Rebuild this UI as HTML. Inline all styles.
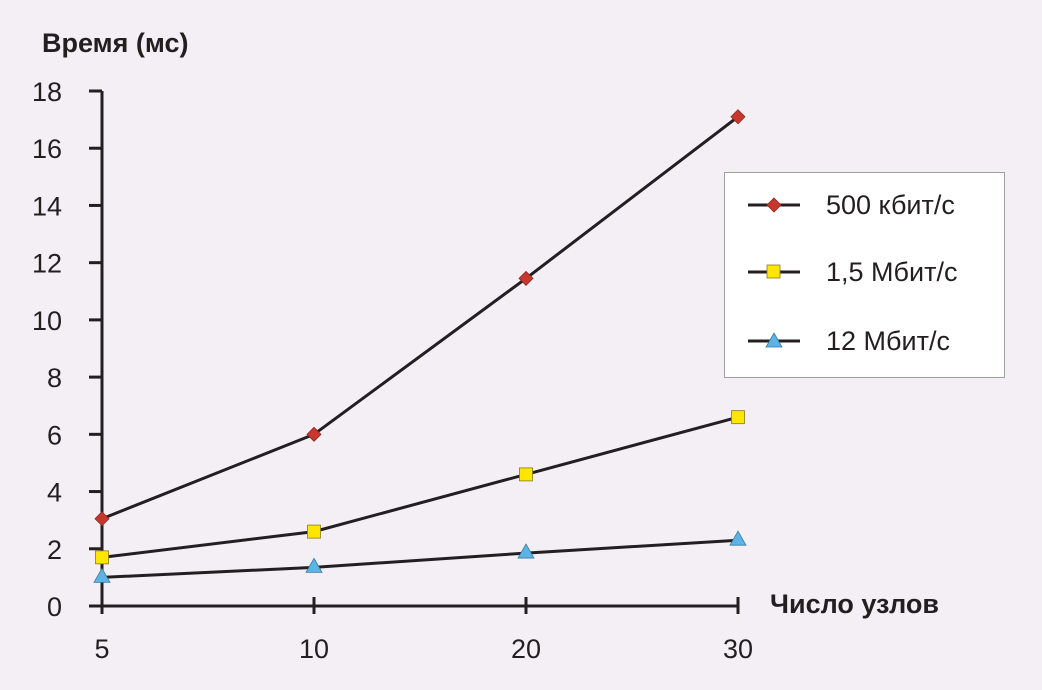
<!DOCTYPE html>
<html><head><meta charset="utf-8">
<style>
html,body{margin:0;padding:0;background:#f3eff5;}
svg{display:block;font-family:"Liberation Sans",sans-serif;}
</style></head>
<body>
<svg id="chart" width="1042" height="690" viewBox="0 0 1042 690">
<rect x="0" y="0" width="1042" height="690" fill="#f3eff5"/>
<text x="42" y="52" font-size="27" font-weight="bold" fill="#231f20">Время (мс)</text>
<text x="770" y="613" font-size="27" font-weight="bold" fill="#231f20">Число узлов</text>
<g id="axes"></g>
<g id="series"></g>
<g>
<rect x="724.5" y="172.5" width="280" height="205" fill="#ffffff" stroke="#a0a0a0" stroke-width="1"/>
<g>
<line x1="748" y1="205" x2="800" y2="205" stroke="#231f20" stroke-width="3"/>
<path d="M774,198 L781,205 L774,212 L767,205 Z" fill="#c8372d" stroke="#8a2a20" stroke-width="0.8"/>
<text x="826" y="214" font-size="27" fill="#231f20">500 кбит/с</text></g>
<g>
<line x1="748" y1="272" x2="800" y2="272" stroke="#231f20" stroke-width="3"/>
<rect x="767" y="265" width="13" height="13" fill="#ffe600" stroke="#8a7a20" stroke-width="0.8"/>
<text x="826" y="281" font-size="27" fill="#231f20">1,5 Мбит/с</text></g>
<g>
<line x1="748" y1="341" x2="800" y2="341" stroke="#231f20" stroke-width="3"/>
<path d="M774,333 L782,347 L766,347 Z" fill="#5bb3e6" stroke="#3a7aa0" stroke-width="0.8"/>
<text x="826" y="350" font-size="27" fill="#231f20">12 Мбит/с</text></g>
</g>
</svg>
<script>
const categories = ["5","10","20","30"];
const yTicks = [0,2,4,6,8,10,12,14,16,18];
const s500 = [3.05, 6.0, 11.45, 17.1];
const s15 = [1.7, 2.6, 4.6, 6.6];
const s12 = [1.0, 1.35, 1.85, 2.3];
const NS="http://www.w3.org/2000/svg";
const x0=102, x1=738, y0=606, y1=91, yMax=18;
function xs(i){return x0+(x1-x0)*i/(categories.length-1);}
function ys(v){return y0-(y0-y1)*v/yMax;}
function mk(tag,attrs,parent){const e=document.createElementNS(NS,tag);for(const k in attrs)e.setAttribute(k,attrs[k]);parent.appendChild(e);return e;}
const axes=document.getElementById('axes');
let a=mk('line',{x1:x0,y1:y1,x2:x0,y2:y0+6,stroke:'#231f20','stroke-width':3},axes);


a=mk('line',{x1:89,y1:y0,x2:x1,y2:y0,stroke:'#231f20','stroke-width':3},axes);


yTicks.forEach(v=>{
  const t=mk('line',{x1:89,y1:ys(v),x2:x0,y2:ys(v),stroke:'#231f20','stroke-width':3},axes);
  
  
  const l=mk('text',{x:62,y:ys(v)+10,'font-size':27,'text-anchor':'end',fill:'#231f20'},axes);
  l.textContent=v;
  
  
});
categories.forEach((c,i)=>{
  const t=mk('line',{x1:xs(i),y1:597,x2:xs(i),y2:614,stroke:'#231f20','stroke-width':3},axes);
  
  
  const l=mk('text',{x:xs(i),y:658,'font-size':27,'text-anchor':'middle',fill:'#231f20'},axes);
  l.textContent=c;
  
  
});
const sg=document.getElementById('series');
function drawSeries(vals,name,marker){
  const g=mk('g',{},sg);
  
  
  const pl=mk('polyline',{points:vals.map((v,i)=>xs(i)+','+ys(v)).join(' '),fill:'none',stroke:'#231f20','stroke-width':3},g);
  
  
  vals.forEach((v,i)=>{
    const x=xs(i),y=ys(v);let m;
    if(marker==='d') m=mk('path',{d:`M${x},${y-7} L${x+7},${y} L${x},${y+7} L${x-7},${y} Z`,fill:'#c8372d',stroke:'#8a2a20','stroke-width':0.8},g);
    else if(marker==='s') m=mk('rect',{x:x-6.5,y:y-6.5,width:13,height:13,fill:'#ffe600',stroke:'#8a7a20','stroke-width':0.8},g);
    else m=mk('path',{d:`M${x},${y-9} L${x+8},${y+5} L${x-8},${y+5} Z`,fill:'#5bb3e6',stroke:'#3a7aa0','stroke-width':0.8},g);
    
    
  });
}
drawSeries(s500,'500kbit','d');
drawSeries(s15,'1.5mbit','s');
drawSeries(s12,'12mbit','t');
</script>
</body></html>
